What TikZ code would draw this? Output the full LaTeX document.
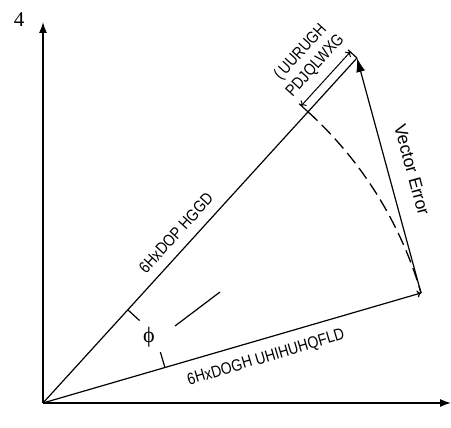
\documentclass[tikz,border=0pt]{standalone}
\usepackage{fontspec}
\usetikzlibrary{arrows.meta}
\newfontfamily\plainsans{Liberation Sans}
\newfontfamily\cond[FakeStretch=0.85]{Liberation Sans}
\newfontfamily\serifnum{Liberation Serif}
\tikzset{
  ln/.style={line width=1.2pt},
  axis/.style={line width=1.4pt},
  lbl/.style={font=\cond\fontsize{16.5}{20}\selectfont, inner sep=0pt, align=center},
  arcdash/.style={line width=1.3pt, dash pattern=on 13pt off 6pt},
}
\begin{document}
\begin{tikzpicture}[x=1pt,y=-1pt]
\useasboundingbox (0,0) rectangle (451,428);
% key points
\coordinate (O) at (43,403);
\coordinate (Y) at (43,22);
\coordinate (X) at (451,403);
\coordinate (M) at (357,58);
\coordinate (R) at (421,293);
\coordinate (A) at (308.0,111.8);
\coordinate (D1) at (301.3,105.7);
\coordinate (D2) at (350.3,51.9);
\coordinate (E1) at (299.1,103.7);
\coordinate (E2) at (348.1,49.9);
\coordinate (T1a) at (127.8,309.8);
\coordinate (T1b) at (139.6,320.6);
\coordinate (T2a) at (164.9,367.5);
\coordinate (T2b) at (160.4,352.1);
\coordinate (S1) at (175,326);
\coordinate (S2) at (220,292);
% axes
\draw[axis,-{Latex[length=11pt,width=8pt]}] (O) -- (Y);
\draw[axis,-{Latex[length=11pt,width=8pt]}] (O) -- (X);
% signals
\draw[ln] (O) -- (M);
\draw[ln,-{To[length=4pt,width=7pt]}] (O) -- (R);
\draw[ln,-{Latex[length=14pt,width=9pt]}] (R) -- (M);
% magnitude error dimension
\draw[ln] (A) -- (E1);
\draw[ln] (M) -- (E2);
\draw[line width=1pt,{To[length=4pt,width=8pt]}-{To[length=4pt,width=8pt]}] (D1) -- (D2);
% dashed arc
\draw[arcdash] (A) arc[start angle=-47.7, end angle=-16.2, radius=393.7];
% angle marks
\draw[ln] (T1a) -- (T1b);
\draw[ln] (T2a) -- (T2b);
\draw[ln] (S1) -- (S2);
% labels
\node[font=\serifnum\fontsize{21}{23}\selectfont, inner sep=0pt] (qlab) at (19,20) {4};
\node[font=\serifnum\fontsize{22}{24}\selectfont, inner sep=0pt] (phi) at (149,337) {ϕ};
\node[lbl, rotate=47.7] (mlab) at (176,233) {6HxDOP HGGD};
\node[lbl, rotate=16.5] (rlab) at (266,358) {6HxDOGH UHIHUHQFLD};
\node[lbl, rotate=47.7] (elab) at (308,59) {(\,UURUGH\\PDJQLWXG};
\node[font=\plainsans\fontsize{17.5}{20}\selectfont, inner sep=0pt, rotate=-74.7] (vlab) at (412,170) {Vector Error};
\end{tikzpicture}
\end{document}
